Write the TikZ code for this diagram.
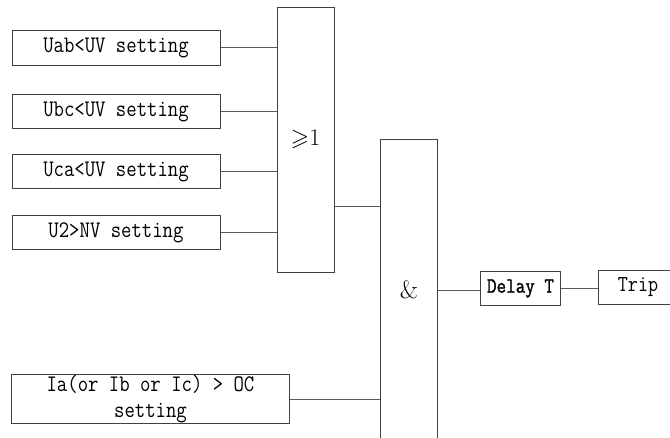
\documentclass[tikz,border=0pt]{standalone}
\usepackage{amssymb}
\usepackage{fontspec}
\newfontfamily\monofont[FakeStretch=0.85]{Latin Modern Mono}
\newfontfamily\monobold[FakeStretch=0.85, FakeBold=1.2]{Latin Modern Mono}
\usetikzlibrary{calc}
\newlength{\px}
\setlength{\px}{0.75pt}
\tikzset{
  blk/.style={draw=black!75, rectangle, inner sep=0pt, anchor=center},
  inbox/.style={blk, minimum width=208\px, minimum height=34.5\px,
    font=\monofont\fontsize{17.8}{19}\selectfont},
  gate/.style={blk, minimum width=57\px},
  wire/.style={draw=black!65},
}
\begin{document}
\begin{tikzpicture}[x=0.75pt, y=-0.75pt, line width=0.75pt]
  \useasboundingbox (0,0) rectangle (670,437);
  \clip (0,0) rectangle (670,437);

  % input conditions
  \node[inbox] (uab) at (116,47.8)  {Uab<UV setting};
  \node[inbox] (ubc) at (116,111.5) {Ubc<UV setting};
  \node[inbox] (uca) at (116,171.5) {Uca<UV setting};
  \node[inbox] (u2)  at (116,232.5) {U2>NV setting};
  \node[blk, minimum width=277.6\px, minimum height=48.3\px, align=center,
        font=\monofont\fontsize{17.8}{20}\selectfont]
        (ioc) at (150.5,399) {Ia(or Ib or Ic) > OC\\setting};

  % logic gates
  \node[gate, minimum height=265\px, font=\fontsize{18}{20}\selectfont]
        (or) at (305.5,139.5) {\raisebox{-3\px}{$\geqslant$1}};
  \node[gate, minimum width=56.6\px, minimum height=302\px,
        font=\fontsize{19}{21}\selectfont] (and) at (409,290) {\&};

  % output chain
  \node[blk, minimum width=79.6\px, minimum height=34.3\px,
        font=\monobold\fontsize{16.4}{18}\selectfont]
        (delay) at (520.5,288.5) {Delay T};
  \node[blk, minimum width=80\px, minimum height=34.7\px,
        font=\monofont\fontsize{17.2}{19}\selectfont]
        (trip) at (638,287.4) {Trip};

  % connectors
  \foreach \n in {uab,ubc,uca,u2}
    \draw[wire] (\n.east) -- (\n.east -| or.west);
  \coordinate (orout) at ($(or.south east)!0.25!(or.north east)$);
  \draw[wire] (orout) -- (orout -| and.west);
  \draw[wire] (ioc.east) -- (ioc.east -| and.west);
  \draw[wire] (and.east) -- (and.east -| delay.west);
  \draw[wire] (delay.east) -- (delay.east -| trip.west);
\end{tikzpicture}
\end{document}
